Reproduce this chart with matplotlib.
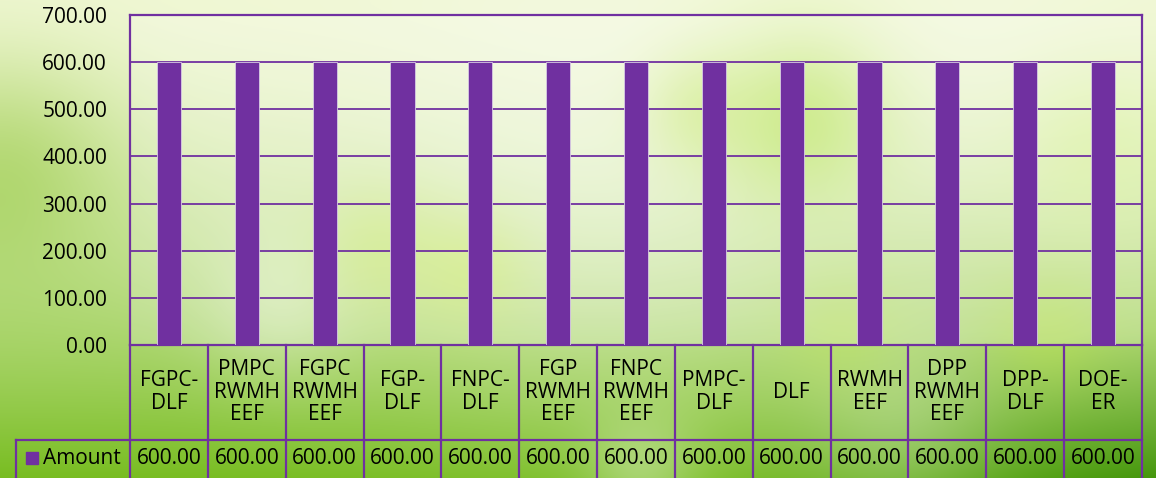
import matplotlib
matplotlib.use('Agg')
import matplotlib.pyplot as plt
import matplotlib.transforms as mtransforms
import numpy as np

# data
categories = ['FGPC-\nDLF', 'PMPC\nRWMH\nEEF', 'FGPC\nRWMH\nEEF', 'FGP-\nDLF', 'FNPC-\nDLF',
              'FGP\nRWMH\nEEF', 'FNPC\nRWMH\nEEF', 'PMPC-\nDLF', 'DLF', 'RWMH\nEEF',
              'DPP\nRWMH\nEEF', 'DPP-\nDLF', 'DOE-\nER']
amounts = [600, 600, 600, 600, 600, 600, 600, 600, 600, 600, 600, 600, 600]
series_name = 'Amount'
yticks = [0, 100, 200, 300, 400, 500, 600, 700]

W, H = 1156, 478
purple = '#7030A0'
plt.rcParams['font.family'] = ['Open Sans', 'DejaVu Sans']
fs = 15

fig = plt.figure(figsize=(W / 100, H / 100), dpi=100)

# background (green photo-like gradient)
yy, xx = np.mgrid[0:H, 0:W].astype(float)
t = np.clip(yy / H, 0, 1) ** 1.6
top = np.array([0.94, 0.97, 0.83])
bot = np.array([0.47, 0.74, 0.13])
img = top[None, None, :] * (1 - t[..., None]) + bot[None, None, :] * t[..., None]
# greener band on the left, darker bottom right
side = np.exp(-((xx - 0) / 120.0) ** 2) * np.exp(-((yy - 160) / 110.0) ** 2)
img -= side[..., None] * np.array([0.15, 0.08, 0.25])
dark = np.clip((xx - 700) / 456.0, 0, 1) * np.clip((yy - 330) / 148.0, 0, 1)
img -= dark[..., None] * np.array([0.2, 0.15, 0.08])
blobs = [(600, 170, 170, 0.35, (1, 1, 1)), (280, 300, 55, 0.35, (1, 1, 1)),
         (900, 420, 70, 0.25, (1, 1, 1)), (640, 470, 40, 0.3, (1, 1, 1)),
         (1000, 60, 120, 0.2, (1, 1, 1)),
         (800, 120, 60, 0.6, (0.68, 0.88, 0.25)), (700, 110, 40, 0.4, (0.75, 0.9, 0.35)),
         (380, 250, 45, 0.45, (0.8, 0.92, 0.4)), (470, 270, 40, 0.45, (0.82, 0.93, 0.38)),
         (1100, 150, 60, 0.5, (0.84, 0.95, 0.55)), (1050, 330, 40, 0.4, (0.75, 0.9, 0.3)),
         (840, 330, 40, 0.4, (0.75, 0.9, 0.35))]
for cx, cy, s, a, col in blobs:
    g = a * np.exp(-(((xx - cx) ** 2 + (yy - cy) ** 2) / (2 * s ** 2)))
    img = img * (1 - g[..., None]) + g[..., None] * np.array(col)[None, None, :]
img = np.clip(img, 0, 1)
bg = fig.add_axes([0, 0, 1, 1], zorder=-5)
bg.imshow(img, aspect='auto', interpolation='bilinear')
bg.axis('off')

# main axes
ax = fig.add_axes([130 / W, 133 / H, 1012 / W, 330 / H])
ax.patch.set_facecolor('white')
ax.patch.set_alpha(0.2)
x = np.arange(len(categories))
ax.bar(x, amounts, width=0.31, color=purple, edgecolor='#d8cce4', linewidth=0.6, zorder=3)
ax.set_xlim(-0.5, len(categories) - 0.5)
ax.set_ylim(yticks[0], yticks[-1])
ax.set_yticks(yticks)
ax.set_yticklabels(['%.2f' % v for v in yticks], fontsize=fs)
ax.tick_params(axis='y', length=0, pad=16.5)
ax.set_xticks([])
for v in yticks:
    ax.axhline(v, color=purple, lw=1.3, zorder=2)
for sp in ax.spines.values():
    sp.set_color(purple)
    sp.set_linewidth(1.6)

# data table below the axes
trans = mtransforms.blended_transform_factory(ax.transData, fig.transFigure)
y_axis = 133 / H
y_mid = (H - 440) / H
for i in range(len(categories) + 1):
    ax.plot([i - 0.5, i - 0.5], [0, y_axis], transform=trans, color=purple,
            lw=1.6, clip_on=False)
fig.add_artist(plt.Line2D([16 / W, 1142 / W], [y_mid, y_mid], color=purple, lw=1.6))
fig.add_artist(plt.Line2D([16 / W, 16 / W], [0, y_mid], color=purple, lw=1.6))

y_lab = (H - 392) / H
y_val = (H - 458) / H
for i, (c, v) in enumerate(zip(categories, amounts)):
    ax.text(i, y_lab, c, transform=trans, ha='center', va='center', fontsize=fs,
            linespacing=1.1)
    ax.text(i, y_val, '%.2f' % v, transform=trans, ha='center', va='center', fontsize=fs)

fig.patches.append(plt.Rectangle((26 / W, (H - 464) / H), 12 / W, 12 / H,
                                 transform=fig.transFigure, color=purple))
fig.text(43 / W, y_val, series_name, ha='left', va='center', fontsize=fs)

fig.savefig('out.png', dpi=100)
